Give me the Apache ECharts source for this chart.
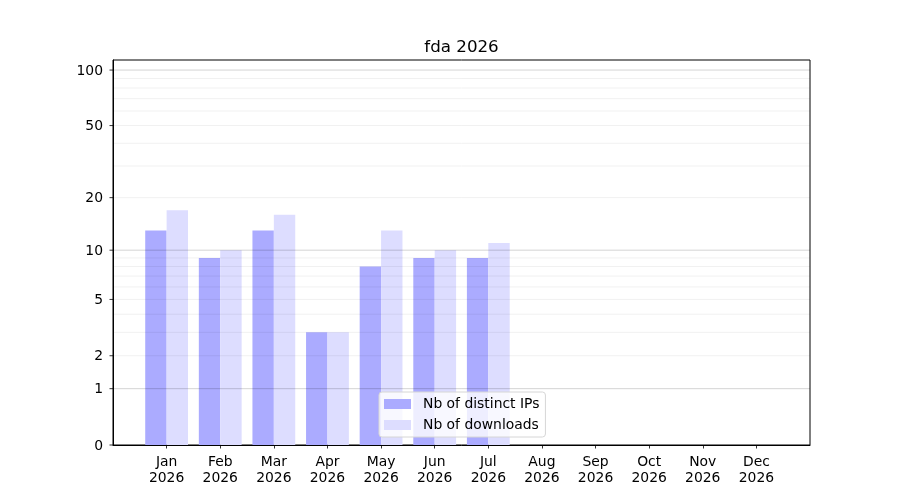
<!DOCTYPE html>
<html style="height: 100%">
<head>
    <meta charset="utf-8">
    <script src="https://cdn.jsdelivr.net/npm/echarts@6/dist/echarts.min.js"></script>
</head>
<body style="height: 100%; margin: 0; background: #fff">
<div id="container" style="height: 500px; width: 900px;"></div>
<script type="text/javascript">
// months shown on the x axis (plus an empty slot each side, like the xlim of -1..12)
var months = ['Jan', 'Feb', 'Mar', 'Apr', 'May', 'Jun', 'Jul', 'Aug', 'Sep', 'Oct', 'Nov', 'Dec'];
var year = '2026';
var ipCounts = [13, 9, 13, 3, 8, 9, 9];
var downloadCounts = [17, 10, 16, 3, 13, 10, 11];
// y axis is log10(1 + v) like the reference
var yTickValues = [0, 1, 2, 5, 10, 20, 50, 100];
var majorGrid = [1, 10, 100];
var minorGrid = [2, 3, 4, 5, 6, 7, 8, 9, 20, 30, 40, 50, 60, 70, 80, 90];
var yTop = 113.3;

function tr(v) { return Math.log10(1 + v); }

var categories = [''].concat(months, ['']);
function toBars(vals) {
    return [null].concat(vals.map(tr));
}

var dom = document.getElementById('container');
var myChart = echarts.init(dom);

// horizontal grid lines drawn on top of the bars
function gridRenderer(color) {
    return function (params, api) {
        var cs = params.coordSys;
        var y = api.coord([0, api.value(1)])[1];
        return {
            type: 'line',
            shape: { x1: cs.x, y1: y, x2: cs.x + cs.width, y2: y },
            style: { stroke: color, lineWidth: 0.8 },
            silent: true
        };
    };
}

function tickRenderer(params, api) {
    var cs = params.coordSys;
    var y = api.coord([0, api.value(1)])[1];
    return {
        type: 'group',
        children: [{
            type: 'line',
            shape: { x1: cs.x - 3.5, y1: y, x2: cs.x, y2: y },
            style: { stroke: '#000', lineWidth: 0.8 }
        }, {
            type: 'text',
            x: cs.x - 10,
            y: y + 1,
            style: {
                text: String(api.value(2)),
                align: 'right',
                verticalAlign: 'middle',
                fontFamily: 'DejaVu Sans',
                fontSize: 13.9,
                fill: '#000'
            }
        }],
        silent: true
    };
}

var option = {
    animation: false,
    title: {
        text: 'fda 2026',
        left: 461.5,
        top: 39,
        padding: 0,
        textAlign: 'center',
        textStyle: { fontFamily: 'DejaVu Sans', fontSize: 16.7, fontWeight: 'normal', color: '#000' }
    },
    legend: {
        data: ['Nb of distinct IPs', 'Nb of downloads'],
        orient: 'vertical',
        left: 379,
        top: 392,
        padding: [4, 6, 4, 5],
        itemGap: 5,
        itemWidth: 27,
        itemHeight: 10,
        icon: 'rect',
        backgroundColor: 'rgba(255,255,255,0.8)',
        borderColor: '#d6d6d6',
        borderWidth: 1,
        borderRadius: 3,
        textStyle: { fontFamily: 'DejaVu Sans', fontSize: 13.9, color: '#000', lineHeight: 16, padding: [0, 0, 0, 7] }
    },
    grid: {
        left: 113,
        right: 90,
        top: 60,
        bottom: 55,
        show: true,
        borderColor: '#000',
        borderWidth: 1
    },
    xAxis: {
        type: 'category',
        data: categories,
        boundaryGap: false,
        axisLine: { lineStyle: { color: '#000', width: 1 } },
        axisTick: {
            length: 3.5,
            lineStyle: { color: '#000', width: 0.8 },
            interval: function (i, v) { return v !== ''; }
        },
        axisLabel: {
            interval: 0,
            margin: 9,
            fontFamily: 'DejaVu Sans',
            fontSize: 13.9,
            lineHeight: 16,
            color: '#000',
            formatter: function (v) { return v ? v + '\n' + year : ''; }
        },
        splitLine: { show: false }
    },
    yAxis: {
        type: 'value',
        min: 0,
        max: tr(yTop),
        axisLine: { show: true, lineStyle: { color: '#000', width: 1 } },
        axisTick: { show: false },
        axisLabel: { show: false },
        splitLine: { show: false }
    },
    series: [{
        name: 'Nb of distinct IPs',
        type: 'bar',
        data: toBars(ipCounts),
        barWidth: 21.4,
        barGap: '0%',
        itemStyle: { color: '#ababff' }
    }, {
        name: 'Nb of downloads',
        type: 'bar',
        data: toBars(downloadCounts),
        barWidth: 21.4,
        barGap: '0%',
        itemStyle: { color: '#ddddff' }
    }, {
        name: 'minor grid',
        type: 'custom',
        z: 3,
        silent: true,
        renderItem: gridRenderer('rgba(0,0,0,0.075)'),
        data: minorGrid.map(function (v) { return [0, tr(v)]; })
    }, {
        name: 'major grid',
        type: 'custom',
        z: 3,
        silent: true,
        renderItem: gridRenderer('rgba(0,0,0,0.22)'),
        data: majorGrid.map(function (v) { return [0, tr(v)]; })
    }, {
        name: 'y ticks',
        type: 'custom',
        z: 3,
        silent: true,
        clip: false,
        renderItem: tickRenderer,
        data: yTickValues.map(function (v) { return [0, tr(v), v]; })
    }]
};

myChart.setOption(option, true);
</script>
</body>
</html>
